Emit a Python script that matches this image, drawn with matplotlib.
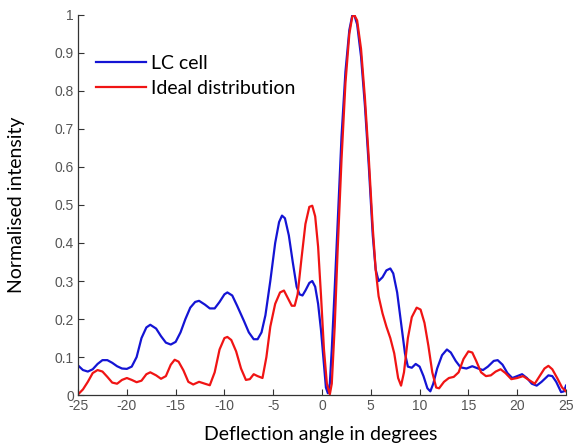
import numpy as np
import matplotlib.pyplot as plt

plt.rcParams['axes.unicode_minus'] = False

# values (degrees, normalised intensity)
lc_x = [-25, -24.5, -24, -23.5, -23, -22.5, -22, -21.5, -21, -20.5, -20, -19.5, -19, -18.5, -18, -17.6,
        -17, -16.5, -16, -15.5, -15, -14.5, -14, -13.5, -13, -12.6, -12, -11.5, -11, -10.5, -10, -9.7,
        -9.2, -8.7, -8, -7.5, -7, -6.6, -6.2, -5.8, -5.3, -4.8, -4.4, -4.1, -3.8, -3.4, -3, -2.6, -2.3,
        -2, -1.7, -1.3, -1, -0.7, -0.4, -0.1, 0.2, 0.4, 0.6, 0.8, 1.0, 1.3, 1.6, 2.0, 2.4, 2.8, 3.1, 3.3,
        3.6, 4.0, 4.4, 4.8, 5.2, 5.5, 5.8, 6.2, 6.6, 7.0, 7.3, 7.7, 8.1, 8.5, 8.8, 9.2, 9.6, 10.0, 10.4,
        10.8, 11.1, 11.4, 11.8, 12.3, 12.8, 13.2, 13.7, 14.2, 14.8, 15.4, 16.0, 16.5, 17.0, 17.6, 18.0,
        18.5, 19.0, 19.5, 20.0, 20.5, 21.0, 21.5, 22.0, 22.5, 23.2, 23.6, 24.0, 24.5, 24.8, 25.0]
lc_y = [0.078, 0.066, 0.062, 0.068, 0.082, 0.092, 0.092, 0.085, 0.076, 0.070, 0.069, 0.075, 0.100, 0.150,
        0.178, 0.185, 0.175, 0.155, 0.138, 0.133, 0.140, 0.165, 0.200, 0.230, 0.245, 0.248, 0.238, 0.228,
        0.228, 0.245, 0.265, 0.270, 0.262, 0.235, 0.195, 0.165, 0.147, 0.147, 0.165, 0.210, 0.300, 0.400,
        0.455, 0.472, 0.465, 0.420, 0.350, 0.285, 0.265, 0.262, 0.275, 0.295, 0.300, 0.285, 0.240, 0.170,
        0.080, 0.020, 0.005, 0.030, 0.120, 0.280, 0.450, 0.680, 0.850, 0.960, 0.998, 1.000, 0.975, 0.890,
        0.760, 0.600, 0.420, 0.330, 0.300, 0.310, 0.328, 0.333, 0.320, 0.270, 0.190, 0.110, 0.075, 0.072,
        0.082, 0.075, 0.050, 0.018, 0.010, 0.030, 0.070, 0.105, 0.120, 0.112, 0.090, 0.073, 0.070, 0.076,
        0.070, 0.066, 0.075, 0.090, 0.092, 0.080, 0.058, 0.045, 0.050, 0.055, 0.045, 0.030, 0.025, 0.035,
        0.052, 0.050, 0.035, 0.008, 0.010, 0.025]

ideal_x = [-25, -24.5, -24, -23.5, -23, -22.5, -22, -21.5, -21, -20.5, -20, -19.5, -19, -18.5, -18, -17.6,
           -17, -16.5, -16, -15.5, -15.1, -14.7, -14.2, -13.7, -13.2, -12.6, -12, -11.5, -11, -10.5, -10,
           -9.7, -9.3, -8.8, -8.3, -7.8, -7.4, -7, -6.6, -6.1, -5.7, -5.3, -4.8, -4.3, -3.9, -3.5, -3.1,
           -2.8, -2.5, -2.1, -1.7, -1.3, -1.0, -0.7, -0.4, -0.1, 0.2, 0.5, 0.8, 1.0, 1.3, 1.6, 2.0, 2.4,
           2.8, 3.1, 3.3, 3.6, 4.0, 4.4, 4.8, 5.2, 5.5, 5.8, 6.2, 6.6, 7.0, 7.4, 7.8, 8.1, 8.4, 8.8, 9.2,
           9.7, 10.1, 10.5, 10.9, 11.3, 11.7, 12.0, 12.5, 13.0, 13.5, 14.0, 14.5, 15.0, 15.4, 15.8, 16.3,
           16.8, 17.3, 17.8, 18.3, 18.8, 19.4, 20.0, 20.6, 21.2, 21.8, 22.3, 22.8, 23.2, 23.6, 24.1, 24.6,
           25.0]
ideal_y = [0.002, 0.015, 0.035, 0.058, 0.066, 0.062, 0.048, 0.033, 0.030, 0.040, 0.045, 0.040, 0.034,
           0.038, 0.055, 0.060, 0.052, 0.043, 0.050, 0.080, 0.093, 0.088, 0.065, 0.035, 0.028, 0.035,
           0.030, 0.026, 0.060, 0.120, 0.150, 0.153, 0.145, 0.115, 0.070, 0.040, 0.042, 0.055, 0.050,
           0.045, 0.100, 0.180, 0.240, 0.270, 0.275, 0.255, 0.235, 0.235, 0.265, 0.360, 0.450, 0.495,
           0.498, 0.470, 0.390, 0.260, 0.120, 0.030, 0.002, 0.030, 0.180, 0.380, 0.620, 0.820, 0.950,
           0.995, 1.000, 0.985, 0.910, 0.780, 0.620, 0.440, 0.330, 0.260, 0.215, 0.180, 0.150, 0.110,
           0.045, 0.025, 0.060, 0.150, 0.205, 0.230, 0.225, 0.190, 0.130, 0.060, 0.020, 0.018, 0.035,
           0.045, 0.048, 0.060, 0.095, 0.115, 0.112, 0.090, 0.060, 0.050, 0.052, 0.062, 0.068, 0.058,
           0.042, 0.045, 0.050, 0.040, 0.030, 0.050, 0.070, 0.077, 0.068, 0.045, 0.020, 0.010]

x_ticks = [-25, -20, -15, -10, -5, 0, 5, 10, 15, 20, 25]
y_ticks = [0, 0.1, 0.2, 0.3, 0.4, 0.5, 0.6, 0.7, 0.8, 0.9, 1]
y_labels = ['0', '0.1', '0.2', '0.3', '0.4', '0.5', '0.6', '0.7', '0.8', '0.9', '1']

fig = plt.figure(figsize=(5.74, 4.48), dpi=100)
ax = fig.add_axes([0.136, 0.118, 0.850, 0.849])

ax.plot(lc_x, lc_y, color='#1414d4', lw=1.6, label='LC cell')
ax.plot(ideal_x, ideal_y, color='#f01414', lw=1.6, label='Ideal distribution')

ax.set_xlim(-25, 25)
ax.set_ylim(0, 1)
ax.set_xticks(x_ticks)
ax.set_yticks(y_ticks)
ax.set_yticklabels(y_labels)

for s in ['top', 'right']:
    ax.spines[s].set_visible(False)
for s in ['left', 'bottom']:
    ax.spines[s].set_color('#333333')
    ax.spines[s].set_linewidth(0.9)

ax.tick_params(direction='in', length=4, width=0.8, colors='#333333',
               labelcolor='#555555', labelsize=10, pad=3)
for lab in ax.get_xticklabels() + ax.get_yticklabels():
    lab.set_family('Liberation Sans')

ax.set_xlabel('Deflection angle in degrees', family='Lato', fontsize=14)
ax.set_ylabel('Normalised intensity', family='Lato', fontsize=14)
ax.xaxis.set_label_coords(0.498, -0.082)
ax.yaxis.set_label_coords(-0.108, 0.5)

leg = ax.legend(loc='upper left', bbox_to_anchor=(0.0, 0.94), frameon=False,
                prop={'family': 'Lato', 'size': 14}, handlelength=2.6,
                handletextpad=0.25, labelspacing=0.4)

fig.savefig('out.png', dpi=100)
